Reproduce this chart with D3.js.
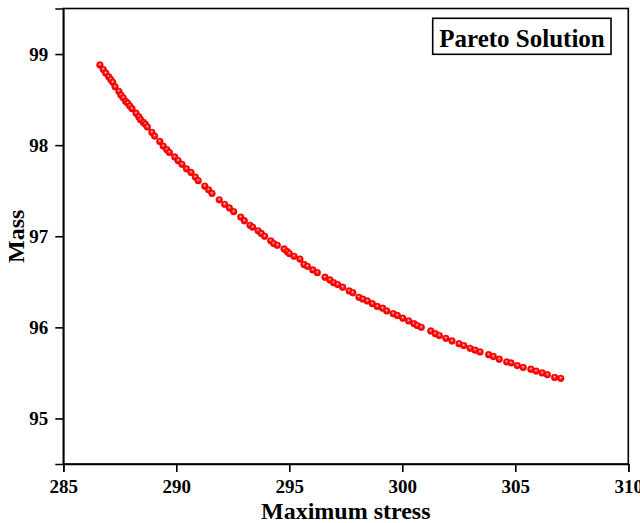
<!DOCTYPE html>
<html><head><meta charset="utf-8">
<script src="https://cdn.jsdelivr.net/npm/d3@7"></script>
<style>
html,body{margin:0;padding:0;background:#fff;}
svg{display:block;}
</style></head>
<body>
<svg id="chart" width="640" height="523"></svg>
<script>
// Pareto front: maximum stress (x) vs mass (y)
const maxStress = [286.62,286.77,286.88,287.01,287.10,287.19,287.29,287.46,287.55,287.65,
287.76,287.85,287.94,288.04,288.22,288.34,288.42,288.54,288.63,288.72,
288.92,289.04,289.27,289.42,289.58,289.69,289.93,290.08,290.25,290.45,
290.65,290.84,290.97,291.26,291.43,291.58,291.90,292.14,292.35,292.54,
292.85,293.01,293.26,293.38,293.62,293.76,293.91,294.18,294.31,294.47,
294.77,294.91,295.00,295.21,295.47,295.65,295.80,296.04,296.24,296.58,
296.80,296.96,297.14,297.36,297.65,297.81,298.08,298.25,298.45,298.67,
298.89,299.13,299.31,299.60,299.78,300.02,300.28,300.52,300.66,300.84,
301.26,301.46,301.64,301.93,302.20,302.51,302.72,303.00,303.22,303.44,
303.82,304.03,304.29,304.62,304.81,305.09,305.35,305.69,305.92,306.19,
306.42,306.74,307.01];
const mass = [98.88,98.83,98.79,98.75,98.72,98.69,98.64,98.59,98.55,98.52,
98.48,98.46,98.43,98.40,98.35,98.31,98.28,98.25,98.23,98.20,
98.14,98.10,98.04,97.99,97.95,97.92,97.87,97.83,97.79,97.74,
97.70,97.65,97.61,97.55,97.51,97.47,97.40,97.35,97.31,97.27,
97.21,97.17,97.12,97.10,97.06,97.03,97.00,96.95,96.92,96.90,
96.86,96.83,96.81,96.78,96.75,96.69,96.67,96.63,96.60,96.55,
96.52,96.49,96.47,96.44,96.40,96.38,96.33,96.31,96.29,96.26,
96.23,96.21,96.18,96.15,96.13,96.10,96.07,96.04,96.02,96.00,
95.96,95.93,95.91,95.88,95.85,95.82,95.80,95.77,95.75,95.73,
95.70,95.68,95.65,95.62,95.61,95.58,95.56,95.54,95.52,95.50,
95.48,95.45,95.44];
const xTicks = [285,290,295,300,305,310];
const yTicks = [95,96,97,98,99];
const xDomain = [285,310];
const yDomain = [94.5,99.5];
const xTitle = "Maximum stress";
const yTitle = "Mass";
const legendLabel = "Pareto Solution";

const FONT = "'Liberation Serif','Times New Roman',serif";
const svg = d3.select("#chart");
const L = 63.3, R = 628.3, T = 8.5, B = 464;

const x = d3.scaleLinear().domain(xDomain).range([L, R]);
const y = d3.scaleLinear().domain(yDomain).range([B, T]);

const defs = svg.append("defs");
const g = defs.append("radialGradient").attr("id","ball")
  .attr("cx","0.5").attr("cy","0.5").attr("r","0.55")
  .attr("fx","0.48").attr("fy","0.38");
g.append("stop").attr("offset","0%").attr("stop-color","#fff0f0");
g.append("stop").attr("offset","28%").attr("stop-color","#ff4040");
g.append("stop").attr("offset","60%").attr("stop-color","#ff0000");
g.append("stop").attr("offset","100%").attr("stop-color","#e80000");

// frame
svg.append("rect").attr("x",L).attr("y",T).attr("width",R-L).attr("height",B-T)
  .attr("fill","none").attr("stroke","#000").attr("stroke-width",1.6);

// axes
const xAxis = svg.append("g").attr("transform",`translate(0,${B})`)
  .call(d3.axisBottom(x).tickValues(xTicks).tickFormat(d3.format("d")).tickSize(8).tickPadding(8));
const yAxis = svg.append("g").attr("transform",`translate(${L},0)`)
  .call(d3.axisLeft(y).tickValues(yTicks).tickFormat(d3.format("d")).tickSize(8).tickPadding(7));
[xAxis,yAxis].forEach(a=>{
  a.select(".domain").attr("stroke","#000").attr("stroke-width",1.6);
  a.selectAll(".tick line").attr("stroke","#000").attr("stroke-width",1.6);
  a.selectAll(".tick text").attr("fill","#000").attr("font-family",FONT)
    .attr("font-weight","bold").attr("font-size",19);
});
yAxis.selectAll(".tick text").attr("dy","0.34em");

// titles
svg.append("text").attr("x",(L+R)/2).attr("y",519).attr("text-anchor","middle")
  .attr("font-family",FONT).attr("font-weight","bold").attr("font-size",24).text(xTitle);
svg.append("text").attr("transform",`translate(24,${(T+B)/2}) rotate(-90)`)
  .attr("text-anchor","middle")
  .attr("font-family",FONT).attr("font-weight","bold").attr("font-size",24).text(yTitle);

// points
const pts = maxStress.map((d,i)=>({x:d,y:mass[i]}));
svg.append("g").selectAll("circle").data(pts).join("circle")
  .attr("cx",d=>x(d.x)).attr("cy",d=>y(d.y)).attr("r",3.4)
  .attr("fill","url(#ball)").attr("stroke","#f00000").attr("stroke-width",0.4);

// legend box
const lg = svg.append("g");
lg.append("rect").attr("x",432.7).attr("y",18.3).attr("width",178.3).attr("height",36)
  .attr("fill","#fff").attr("stroke","#000").attr("stroke-width",1.6);
lg.append("text").attr("x",522).attr("y",46.5).attr("text-anchor","middle")
  .attr("font-family",FONT).attr("font-weight","bold").attr("font-size",25).text(legendLabel);
</script>
</body></html>
